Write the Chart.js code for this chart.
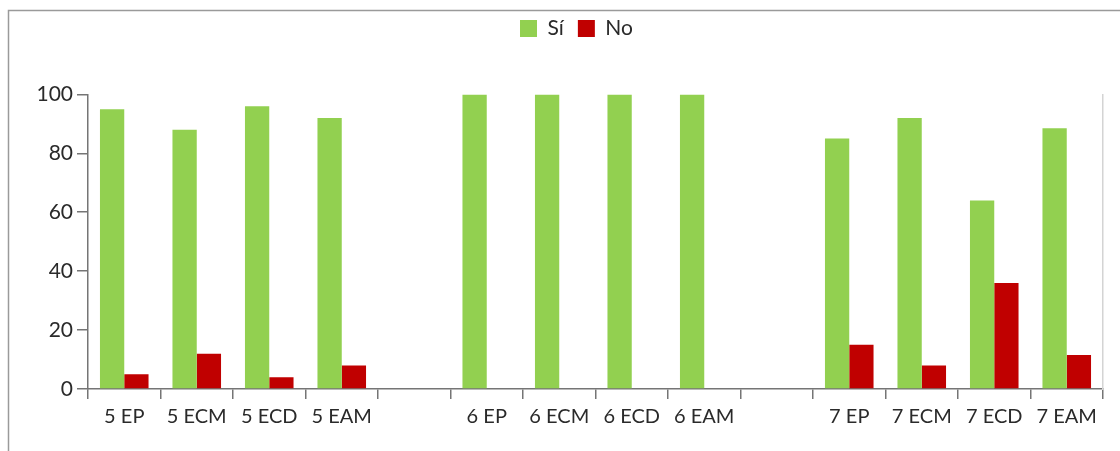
<!DOCTYPE html>
<html>
<head>
<meta charset="utf-8">
<script src="https://cdn.jsdelivr.net/npm/chart.js@4.4.1/dist/chart.umd.min.js"></script>
<style>
  html, body { margin: 0; padding: 0; background: #ffffff; }
  #wrap { width: 1120px; height: 451px; position: relative; }
</style>
</head>
<body>
<div id="wrap"><canvas id="c" width="1120" height="451"></canvas></div>
<script>
// Groups 5, 6 and 7, with an empty slot between groups
const categories = ['5 EP', '5 ECM', '5 ECD', '5 EAM', '', '6 EP', '6 ECM', '6 ECD', '6 EAM', '', '7 EP', '7 ECM', '7 ECD', '7 EAM'];
const siValues = [95, 88, 96, 92, null, 100, 100, 100, 100, null, 85, 92, 64, 88.5];
const noValues = [5, 12, 4, 8, null, 0, 0, 0, 0, null, 15, 8, 36, 11.5];
const yTickValues = [0, 20, 40, 60, 80, 100];

const AXIS = '#757575';
const TEXT = '#2a2a2a';
const FONT = "Lato, 'Open Sans', sans-serif";

// Outer frame of the chart (top and left edges)
const framePlugin = {
  id: 'frame',
  beforeDraw(chart) {
    const ctx = chart.ctx;
    ctx.save();
    ctx.strokeStyle = '#9a9a9a';
    ctx.lineWidth = 1.5;
    ctx.beginPath();
    ctx.moveTo(8.5, 451);
    ctx.lineTo(8.5, 10.5);
    ctx.lineTo(1120, 10.5);
    ctx.stroke();
    ctx.restore();
  }
};

// Nudge the legend a little to the right of the canvas centre
const legendShift = {
  id: 'legendShift',
  afterLayout(chart) {
    if (chart.legend) { chart.legend.left += 42; }
  }
};

new Chart(document.getElementById('c'), {
  type: 'bar',
  data: {
    labels: categories,
    datasets: [
      { label: 'Sí', data: siValues, backgroundColor: '#92d050', borderWidth: 0 },
      { label: 'No', data: noValues, backgroundColor: '#c00000', borderWidth: 0 }
    ]
  },
  options: {
    responsive: false,
    animation: false,
    devicePixelRatio: 1,
    layout: { padding: { left: 8, right: 17, top: 4, bottom: 0 } },
    datasets: { bar: { categoryPercentage: 0.67, barPercentage: 1.0 } },
    plugins: {
      tooltip: { enabled: false },
      legend: {
        position: 'top',
        labels: {
          boxWidth: 17, boxHeight: 17, padding: 14,
          color: TEXT, font: { family: FONT, size: 21 }
        }
      },
      subtitle: {
        display: true, text: '', weight: 500,
        font: { size: 12 }, padding: { top: 0, bottom: 31 }
      }
    },
    scales: {
      x: {
        grid: { display: true, offset: true, drawOnChartArea: false, drawTicks: true, tickLength: 10, color: AXIS, lineWidth: 1.5 },
        border: { display: true, color: AXIS, width: 1.5 },
        ticks: { color: TEXT, font: { family: FONT, size: 20 }, padding: 6, maxRotation: 0, autoSkip: false },
        afterFit(scale) { scale.height = 62; }
      },
      y: {
        min: 0, max: 100,
        grid: { display: true, drawOnChartArea: false, drawTicks: true, tickLength: 11, color: AXIS, lineWidth: 1.5 },
        border: { display: true, color: AXIS, width: 1.5 },
        ticks: { color: TEXT, font: { family: FONT, size: 21 }, padding: 4 },
        afterBuildTicks(scale) { scale.ticks = yTickValues.map(v => ({ value: v })); },
        afterFit(scale) { scale.width = 80; }
      },
      yRight: {
        position: 'right',
        display: true,
        grid: { display: false },
        ticks: { display: false },
        border: { display: true, color: '#d4d4d4', width: 1.5 },
        afterFit(scale) { scale.width = 0; }
      }
    }
  },
  plugins: [framePlugin, legendShift]
});
</script>
</body>
</html>
